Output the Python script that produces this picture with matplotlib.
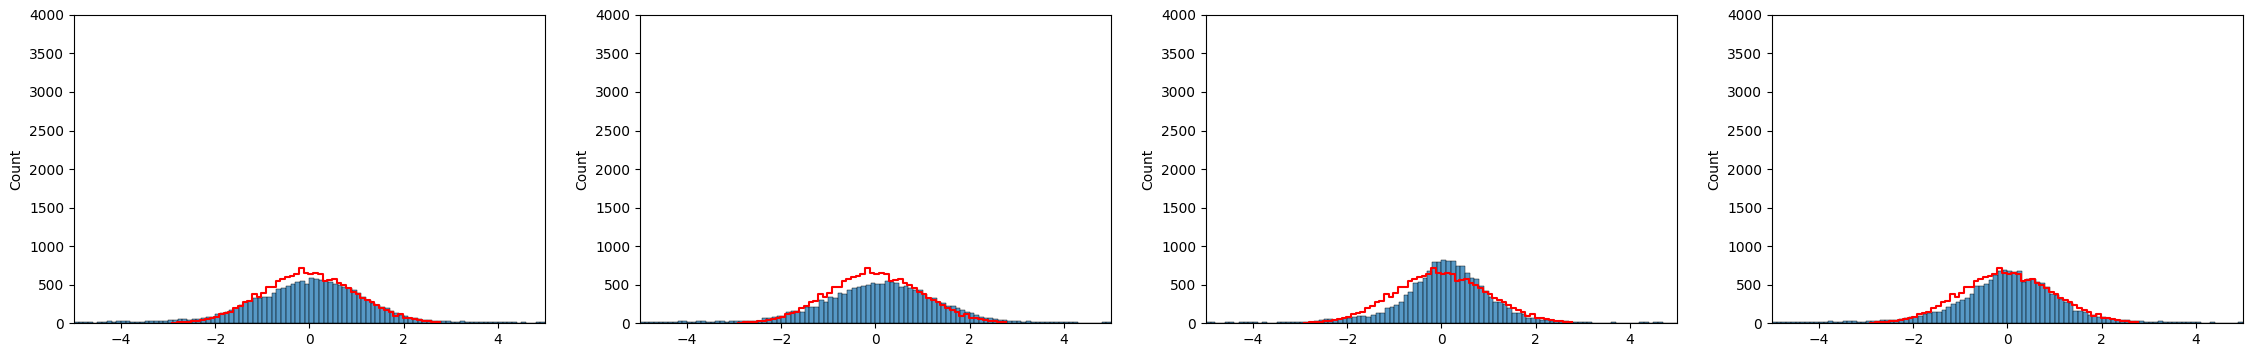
import numpy as np
import pandas as pd
import matplotlib
matplotlib.use("Agg")
import matplotlib.pyplot as plt
import seaborn as sns

# blue histograms: 100 bins of width 0.1 from -5 to 5
blue_edges = np.linspace(-5, 5, 101)

panel1 = [15, 15, 15, 10, 0, 10, 10, 25, 10, 20, 20, 20, 10, 15, 15, 20, 20,
          26, 26, 26, 35, 43, 56, 56, 39, 52, 52, 60, 82, 82,
          117, 134, 143, 165, 199, 234, 273, 290, 320, 329,
          342, 342, 394, 442, 459, 485, 502, 528, 545, 511,
          589, 567, 563, 545, 528, 511, 494, 468, 459, 429,
          385, 342, 299, 264, 234, 212, 190, 156, 134, 104,
          95, 69, 60, 48, 40, 38, 30, 30, 25, 20,
          15, 15, 20, 15, 12, 10, 10, 10, 10, 15,
          10, 8, 12, 8, 5, 8, 5, 5, 10, 15]

panel2 = [15, 15, 15, 15, 15, 10, 10, 10, 20, 25, 15, 10, 20, 25, 15, 15, 25,
          30, 17, 26, 30, 30, 30, 30, 30, 30, 60, 60, 74, 91,
          95, 139, 156, 156, 139, 203, 212, 212, 303, 277,
          342, 329, 385, 377, 429, 450, 463, 481, 494, 515,
          502, 511, 550, 537, 520, 472, 481, 459, 433, 433,
          372, 320, 320, 268, 255, 225, 225, 190, 169, 139,
          126, 104, 82, 69, 60, 55, 40, 40, 25, 20,
          20, 15, 25, 15, 15, 15, 12, 10, 10, 15,
          10, 8, 10, 5, 5, 5, 5, 5, 8, 10]

panel3 = [10, 10, 5, 5, 15, 10, 5, 10, 10, 15, 10, 5, 8, 5, 5, 10, 8,
          13, 13, 13, 13, 17, 17, 30, 35, 48, 48, 43, 52, 60,
          60, 74, 87, 87, 82, 104, 130, 130, 190, 212,
          234, 277, 364, 398, 515, 537, 580, 680, 797, 797,
          823, 806, 806, 745, 745, 645, 589, 572, 481, 416,
          342, 277, 268, 242, 190, 126, 126, 113, 69, 69,
          60, 39, 35, 26, 30, 25, 20, 15, 12, 10,
          10, 8, 5, 5, 5, 5, 8, 5, 5, 5,
          3, 5, 10, 8, 5, 10, 8, 5, 3, 3]

panel4 = [15, 15, 15, 15, 15, 15, 15, 15, 15, 15, 15, 15, 30, 15, 15, 20, 20,
          26, 17, 17, 26, 26, 26, 39, 39, 35, 39, 48, 60, 74,
          82, 95, 113, 126, 139, 139, 169, 212, 242, 268,
          299, 320, 372, 476, 476, 511, 558, 623, 675, 688,
          675, 658, 675, 537, 567, 572, 537, 520, 472, 377,
          364, 312, 277, 255, 156, 156, 139, 104, 104, 82,
          74, 60, 52, 45, 40, 35, 30, 25, 20, 15,
          15, 12, 20, 15, 10, 10, 10, 8, 8, 10,
          8, 5, 5, 8, 5, 5, 5, 5, 5, 8]

panels = [panel1, panel2, panel3, panel4]

# red reference histogram (same on every panel)
red_edges = np.linspace(-2.92, 2.78, 58)
red_counts = [5, 10, 10, 15, 20, 25, 39, 48, 60, 82,
              113, 130, 147, 190, 225, 277, 286, 372, 333, 385,
              463, 472, 545, 567, 602, 606, 636, 710, 654, 632,
              650, 632, 545, 563, 572, 515, 494, 450, 407, 381,
              320, 299, 277, 234, 190, 169, 139, 95, 121, 69,
              60, 50, 35, 30, 20, 12, 8]

blue_centers = (blue_edges[:-1] + blue_edges[1:]) / 2
red_centers = (red_edges[:-1] + red_edges[1:]) / 2
red_df = pd.DataFrame({"x": red_centers, "count": red_counts})

fig, axes = plt.subplots(1, 4, figsize=(22.54, 3.57), dpi=100)
fig.subplots_adjust(left=0.0328, right=0.9951, bottom=0.0952, top=0.958, wspace=0.2017)

for ax, counts in zip(axes, panels):
    df = pd.DataFrame({"x": blue_centers, "count": counts})
    sns.histplot(data=df, x="x", weights="count", bins=list(blue_edges), ax=ax)
    sns.histplot(data=red_df, x="x", weights="count", bins=list(red_edges), ax=ax,
                 element="step", fill=False, color="red")
    ax.set_xlim(-5, 5)
    ax.set_ylim(0, 4000)
    ax.set_xlabel("")
    ax.set_ylabel("Count")

fig.savefig("out.png", dpi=100)
